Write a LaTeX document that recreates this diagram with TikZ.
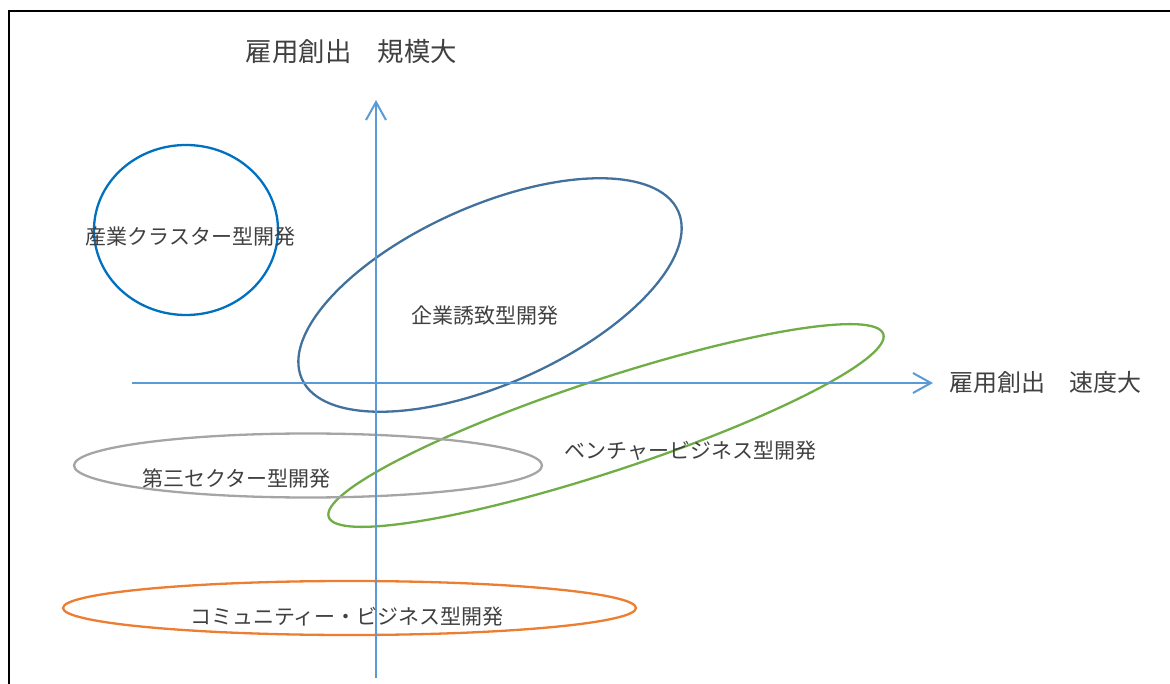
\documentclass[tikz,border=0pt]{standalone}
\usepackage{fontspec}
\setmainfont{Noto Sans CJK JP}
\usetikzlibrary{arrows.meta,shapes.geometric}
\definecolor{axisblue}{HTML}{5B9BD5}
\definecolor{cblue}{HTML}{0070C0}
\definecolor{dblue}{HTML}{41719C}
\definecolor{cgreen}{HTML}{70AD47}
\definecolor{cgray}{HTML}{A5A5A5}
\definecolor{corange}{HTML}{ED7D31}
\definecolor{txt}{HTML}{404040}
\begin{document}
\begin{tikzpicture}[x=1pt,y=-1pt,
  axisline/.style={draw=axisblue,line width=2pt,-{Straight Barb[length=18pt,width=20pt,line width=2pt]}},
  oval/.style={ellipse,draw,line width=2.3pt,inner sep=0pt,outer sep=0pt},
  lbl/.style={text=txt,font=\fontsize{21}{25}\selectfont,inner sep=0pt},
  axlbl/.style={text=txt,inner sep=0pt}]
\useasboundingbox (0,0) rectangle (1170,684);
\clip (0,0) rectangle (1170,684);
% frame
\draw[line width=2pt,black] (9,700) -- (9,11) -- (1190,11);
% ellipses
\node[oval,draw=cblue,minimum width=184pt,minimum height=170pt] (cluster) at (186,230) {};
\node[oval,draw=dblue,minimum width=412pt,minimum height=178pt,rotate=24] (attract) at (490,295) {};
\node[oval,draw=cgreen,minimum width=584pt,minimum height=92pt,rotate=18.25] (venture) at (606,425.5) {};
\node[oval,draw=cgray,minimum width=468pt,minimum height=64pt] (third) at (308,465.5) {};
\node[oval,draw=corange,minimum width=573pt,minimum height=54pt] (community) at (349.5,608) {};
% axes
\coordinate (vbot) at (376,678);
\coordinate (vtop) at (376,100);
\coordinate (hleft) at (132,383);
\coordinate (hright) at (933,383);
\draw[axisline] (vbot) -- (vtop);
\draw[axisline] (hleft) -- (hright);
% axis labels
\node[axlbl,font=\fontsize{26.4}{30}\selectfont] (ylabel) at (351.5,52) {雇用創出　規模大};
\node[axlbl,font=\fontsize{24}{28}\selectfont] (xlabel) at (1045.5,382) {雇用創出　速度大};
% labels
\node[lbl] (tcluster) at (190.5,237) {産業クラスター型開発};
\node[lbl] (tattract) at (485,316) {企業誘致型開発};
\node[lbl] (tventure) at (690.5,451) {ベンチャービジネス型開発};
\node[lbl] (tthird) at (236.5,479) {第三セクター型開発};
\node[lbl] (tcommunity) at (347,617) {コミュニティー・ビジネス型開発};
\end{tikzpicture}
\end{document}
